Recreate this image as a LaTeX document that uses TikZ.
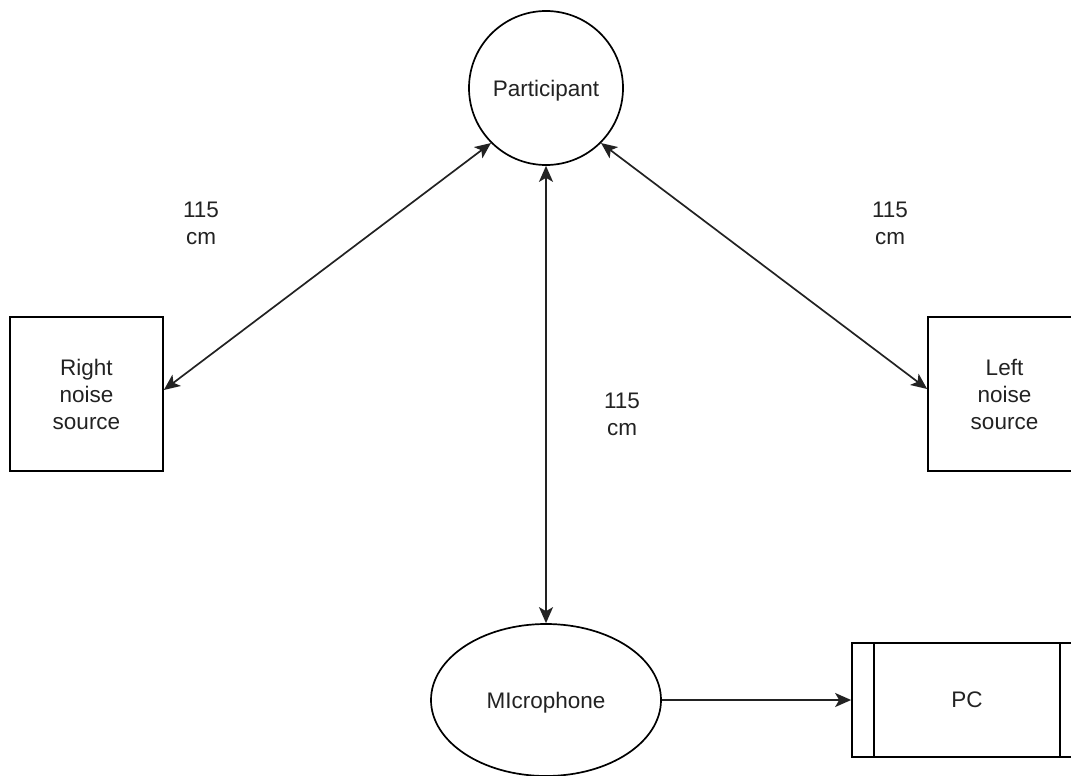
\documentclass[tikz,border=0pt]{standalone}
\usepackage{fontspec}
\setmainfont{Liberation Sans}
\usetikzlibrary{arrows.meta}
\usetikzlibrary{shapes.geometric}
\usetikzlibrary{positioning}
\definecolor{inkgray}{HTML}{222222}

\tikzset{
  box/.style={draw, line width=1.7pt, align=center, inner sep=0pt,
    font=\fontsize{22.5}{27}\selectfont, text=inkgray},
  circlebox/.style={box, circle, minimum size=154pt},
  squarebox/.style={box, rectangle, minimum width=153pt, minimum height=154pt},
  ovalbox/.style={box, ellipse, minimum width=230pt, minimum height=152pt},
  pcbox/.style={box, rectangle, minimum width=230pt, minimum height=114pt},
  dist/.style={align=center, font=\fontsize{22.5}{27}\selectfont, text=inkgray},
  link/.style={line width=1.7pt, draw=inkgray,
    -{Stealth[length=16pt, width=14pt, inset=4pt]}},
  twoway/.style={link, {Stealth[length=16pt, width=14pt, inset=4pt]}-{Stealth[length=16pt, width=14pt, inset=4pt]}}
}

\begin{document}
\begin{tikzpicture}[x=1pt, y=-1pt]
  \useasboundingbox (0,0) rectangle (1071,776);

  % nodes
  \node[circlebox, text depth=0pt] (participant) at (546,88) {Participant};
  \node[squarebox] (rightsrc) at (86.5,394) {Right\\noise\\source};
  \node[squarebox] (leftsrc) at (1004.5,394) {Left\\noise\\source};
  \node[ovalbox, text depth=0pt] (mic) at (546,700) {MIcrophone};
  \node[pcbox] (pc) at (967,700) {PC};
  \draw[line width=1.7pt] ([xshift=23pt]pc.north west) -- ([xshift=23pt]pc.south west);
  \draw[line width=1.7pt] ([xshift=-23pt]pc.north east) -- ([xshift=-23pt]pc.south east);

  % distances
  \node[dist] (distright) at (201,223) {115\\cm};
  \node[dist] (distleft) at (890,223) {115\\cm};
  \node[dist] (distmic) at (622,414) {115\\cm};

  % connectors
  \draw[twoway] ([yshift=4pt]rightsrc.east) -- (participant.225);
  \draw[twoway] ([yshift=5pt]leftsrc.west) -- (participant.-45);
  \draw[twoway] (participant.south) -- (mic.north);
  \draw[link] (mic.east) -- (pc.west);
\end{tikzpicture}
\end{document}
